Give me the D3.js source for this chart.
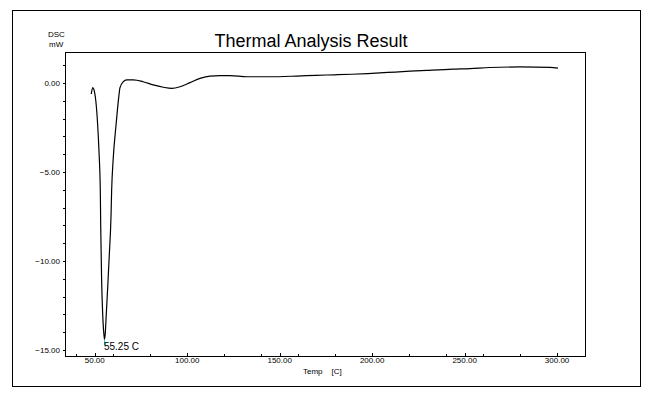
<!DOCTYPE html>
<html lang="en">
<head>
    <title>Thermal Analysis Result</title>
    <meta charset="utf-8">
    <script src="https://d3js.org/d3.v7.min.js"></script>
    <style>
        body { margin: 0; background: #fff; }
        text { font-family: Arial, "Liberation Sans", sans-serif; fill: #000; }
    </style>
</head>
<body>
<div id="visualization"></div>
<script>
    // Curve: temperature [C] and DSC signal [mW]
    const temps = [48.1, 48.9, 49.6, 51.4, 52.3, 53.0, 53.2, 53.7, 54.3, 55.15, 55.25,
        55.7, 56.2, 57.0, 57.8, 58.8, 59.1, 60.0, 61.5, 63.1, 63.6, 65.3, 67.3,
        70.8, 76.2, 81.6, 87.1, 91.6, 96.1, 101.5, 106.9, 112.3, 117.7, 123.1,
        132.3, 144.7, 159.3, 169.6, 179.9, 189.0, 197.7, 208.5, 220.4, 229.6,
        243.7, 252.9, 263.7, 280.0, 296.2, 300.5];
    const dsc = [-0.62, -0.26, -0.39, -2.08, -3.88, -6.12, -7.98, -11.07, -13.03, -14.33, -14.4,
        -14.04, -13.03, -11.46, -9.78, -7.42, -6.12, -4.21, -2.36, -0.67, -0.28, 0.06, 0.17,
        0.17, 0.07, -0.11, -0.24, -0.30, -0.21, 0.02, 0.26, 0.39, 0.41, 0.41,
        0.35, 0.35, 0.39, 0.43, 0.46, 0.49, 0.53, 0.59, 0.66, 0.71,
        0.78, 0.81, 0.87, 0.90, 0.88, 0.83];

    const xMajorTicks = [50, 100, 150, 200, 250, 300];
    const xMinorTicks = [40, 60, 80, 100, 120, 140, 160, 180, 200, 220, 240, 260, 280, 300];
    const yMajorTicks = [0, -5, -10, -15];
    const yMinorTicks = d3.range(-15, 2, 1);

    const peakTemp = 55.25;
    const peakValue = -14.4;

    const width = 652, height = 396;
    const plot = {left: 65, top: 52, right: 585, bottom: 356};

    const svg = d3.select("#visualization")
        .append("svg")
        .attr("width", width)
        .attr("height", height);

    // outer frame
    svg.append("rect")
        .attr("x", 12.5).attr("y", 10.5)
        .attr("width", 628).attr("height", 376)
        .attr("fill", "none").attr("stroke", "#000")
        .attr("shape-rendering", "crispEdges");

    const x = d3.scaleLinear()
        .domain([33.9, 315.1])
        .range([plot.left, plot.right]);

    const y = d3.scaleLinear()
        .domain([-15.34, 1.74])
        .range([plot.bottom, plot.top]);

    // title and unit labels
    svg.append("text")
        .attr("x", 311).attr("y", 47)
        .attr("text-anchor", "middle")
        .style("font-size", "18px")
        .text("Thermal Analysis Result");

    svg.append("text").attr("x", 48).attr("y", 37)
        .style("font-size", "8px").text("DSC");
    svg.append("text").attr("x", 49).attr("y", 47)
        .style("font-size", "8px").text("mW");

    // X axis: minor ticks every 20, labelled ticks every 50, ticks pointing inward
    const xg = svg.append("g")
        .attr("transform", `translate(0, ${plot.bottom})`)
        .attr("shape-rendering", "crispEdges");
    xg.selectAll("line.minor")
        .data(xMinorTicks)
        .join("line")
        .attr("class", "minor")
        .attr("x1", d => Math.round(x(d)) + 0.5).attr("x2", d => Math.round(x(d)) + 0.5)
        .attr("y1", 0).attr("y2", -2)
        .attr("stroke", "#000");
    xg.selectAll("line.major")
        .data(xMajorTicks)
        .join("line")
        .attr("class", "major")
        .attr("x1", d => Math.round(x(d)) + 0.5).attr("x2", d => Math.round(x(d)) + 0.5)
        .attr("y1", 0).attr("y2", -3)
        .attr("stroke", "#000");
    xg.selectAll("text")
        .data(xMajorTicks)
        .join("text")
        .attr("x", d => x(d))
        .attr("y", 7)
        .attr("text-anchor", "middle")
        .style("font-size", "8px")
        .text(d => d3.format(".2f")(d));

    svg.append("text")
        .attr("x", 303).attr("y", 374)
        .style("font-size", "8px")
        .style("white-space", "pre")
        .attr("xml:space", "preserve")
        .text("Temp    [C]");

    // Y axis: minor ticks every 1, labels every 5
    const yg = svg.append("g")
        .attr("transform", `translate(${plot.left}, 0)`)
        .attr("shape-rendering", "crispEdges");
    yg.selectAll("line.minor")
        .data(yMinorTicks)
        .join("line")
        .attr("class", "minor")
        .attr("x1", 0).attr("x2", -2)
        .attr("y1", d => Math.round(y(d)) + 0.5).attr("y2", d => Math.round(y(d)) + 0.5)
        .attr("stroke", "#000");
    yg.selectAll("text")
        .data(yMajorTicks)
        .join("text")
        .attr("x", -5)
        .attr("y", d => y(d) + 3)
        .attr("text-anchor", "end")
        .style("font-size", "8px")
        .text(d => d3.format(".2f")(d));

    // plot frame
    svg.append("rect")
        .attr("x", plot.left + 0.5).attr("y", plot.top + 0.5)
        .attr("width", plot.right - plot.left).attr("height", plot.bottom - plot.top)
        .attr("fill", "none").attr("stroke", "#000")
        .attr("shape-rendering", "crispEdges");

    // DSC curve
    const line = d3.line()
        .x((d, i) => x(temps[i]))
        .y(d => y(d))
        .curve(d3.curveMonotoneX);

    svg.append("path")
        .datum(dsc)
        .attr("d", line)
        .attr("fill", "none")
        .attr("stroke", "#000")
        .attr("stroke-width", 1.2);

    // peak marker
    svg.append("line")
        .attr("x1", x(peakTemp)).attr("x2", x(peakTemp))
        .attr("y1", y(peakValue) + 1).attr("y2", y(peakValue) + 6)
        .attr("stroke", "#00c8c8");
    svg.append("text")
        .attr("x", x(peakTemp) - 0.5)
        .attr("y", y(peakValue) + 11)
        .style("font-size", "10px")
        .text(`${peakTemp.toFixed(2)} C`);
</script>
</body>
</html>
